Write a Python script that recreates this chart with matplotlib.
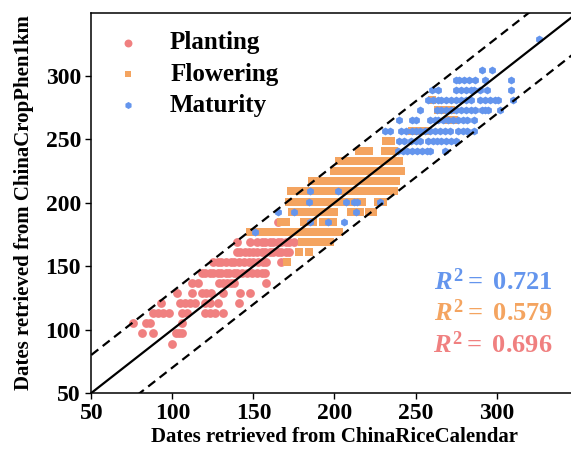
import numpy as np
import matplotlib
matplotlib.use('Agg')
from matplotlib import pyplot as plt

plt.rcParams['font.family'] = ['Liberation Serif', 'DejaVu Serif']
plt.rcParams['font.weight'] = 'bold'
plt.rcParams['mathtext.fontset'] = 'custom'
plt.rcParams['mathtext.it'] = 'Liberation Serif:italic:bold'
plt.rcParams['mathtext.rm'] = 'Liberation Serif:bold'
plt.rcParams['mathtext.bf'] = 'Liberation Serif:bold'

# rows: y value (ChinaCropPhen1km) -> x values (ChinaRiceCalendar)
planting_y = [89, 97, 105, 113, 121, 129, 137, 145, 153, 161, 169, 185]
planting_x = [
    [100],
    [81, 88, 102, 104, 106],
    [76, 84, 86, 106],
    [88, 91, 94, 98, 106, 109, 120, 123, 126, 131],
    [93, 105, 108, 111, 114, 120, 123, 128, 141],
    [103, 112, 118, 121, 124, 131, 142, 148],
    [112, 116, 129, 131, 134, 136, 138, 158],
    [118, 120, 123, 125, 128, 130, 133, 135, 138, 140, 143, 146, 149, 152, 155, 157],
    [125, 128, 130, 133, 136, 138, 141, 144, 147, 150, 153, 156, 158, 167],
    [140, 142, 145, 147, 150, 152, 155, 157, 160, 162, 165, 167, 170, 172],
    [140, 148, 152, 155, 157, 160, 162, 165, 167, 170, 172, 175],
    [165],
]

flowering_y = [153, 161, 169, 177, 185, 193, 201, 209, 217, 225, 233, 241,
               249, 257, 265, 273, 281]
flowering_x = [
    [171],
    [178, 184],
    [180, 182, 185, 187, 190, 192, 195, 197],
    [148, 151, 154, 157, 160, 163, 166, 169, 172, 175, 178, 181, 184, 188, 191,
     194, 197, 200, 203],
    [167, 170, 181, 184, 187, 193, 196, 199],
    [174, 177, 180, 183, 188, 191, 194, 197, 200, 210, 213, 216, 221, 224],
    [172, 175, 178, 181, 183, 186, 189, 192, 195, 198, 201, 205, 208, 211, 214,
     217, 227, 230],
    [173, 176, 179, 182, 186, 189, 192, 195, 198, 201, 204, 207, 210, 213, 216,
     219, 222, 225, 228, 231, 234, 237],
    [186, 189, 192, 195, 198, 201, 204, 207, 210, 213, 216, 219, 222, 225, 228,
     231, 235, 238],
    [200, 203, 206, 209, 212, 215, 218, 221, 224, 227, 230, 233, 236, 239, 241],
    [203, 206, 209, 211, 214, 217, 219, 221, 224, 226, 229, 232, 235, 238, 240],
    [215, 218, 221, 231, 234, 237],
    [232, 235],
    [248, 251, 254, 257],
    [270, 274],
    [264, 268, 272],
    [260],
]

maturity_y = [177, 185, 193, 201, 209, 241, 249, 257, 265, 273, 281, 289,
              297, 305, 329]
maturity_x = [
    [151],
    [185, 196, 206],
    [165, 175, 213],
    [184, 207, 212, 214, 228],
    [185, 202],
    [239, 242, 245, 248, 251, 254, 257, 259, 268],
    [240, 243, 247, 250, 253, 258, 261, 263, 266, 269, 272, 275],
    [231, 234, 241, 244, 248, 250, 253, 256, 259, 262, 265, 268, 271, 276, 279,
     282, 286],
    [240, 248, 250, 259, 262, 264, 267, 270, 273, 276, 279, 282, 286],
    [253, 263, 266, 269, 272, 275, 278, 281, 284, 287, 291, 293, 295, 302],
    [258, 261, 264, 266, 269, 272, 275, 278, 281, 284, 290, 293, 296, 299, 301,
     310],
    [260, 264, 275, 278, 281, 284, 286, 290, 294, 309],
    [275, 277, 280, 283, 287, 293, 309],
    [291, 297],
    [326],
]

r2_labels = ['0.721', '0.579', '0.696']
c_plant = '#F08080'
c_flower = '#F4A460'
c_mature = '#6495ED'


def flatten(ys, xs):
    px, py = [], []
    for y, row in zip(ys, xs):
        px += row
        py += [y] * len(row)
    return np.array(px), np.array(py)


fig = plt.figure(figsize=(5.71, 4.53), dpi=100)
ax = fig.add_axes([0.1599, 0.1325, 0.8517, 0.8395])

x, y = flatten(planting_y, planting_x)
ax.scatter(x, y, s=40, c=c_plant, marker='o', linewidths=0, label='Planting', zorder=2)
x, y = flatten(flowering_y, flowering_x)
ax.scatter(x, y, s=30, c=c_flower, marker='s', linewidths=0, label='Flowering', zorder=2)
x, y = flatten(maturity_y, maturity_x)
ax.scatter(x, y, s=32, c=c_mature, marker='h', linewidths=0, label='Maturity', zorder=3)

lims = np.array([50, 350])
ax.plot(lims, lims, color='black', lw=1.6, zorder=4)
ax.plot(lims, lims + 30, color='black', lw=1.6, dashes=(4, 2.5), zorder=4)
ax.plot(lims, lims - 30, color='black', lw=1.6, dashes=(4, 2.5), zorder=4)

ax.set_xlim(50, 350)
ax.set_ylim(50, 350)
ax.set_xticks([50, 100, 150, 200, 250, 300])
ax.set_yticks([50, 100, 150, 200, 250, 300])
ax.tick_params(labelsize=17, width=1.0, length=4)
for s in ax.spines.values():
    s.set_linewidth(1.1)

ax.set_xlabel('Dates retrieved from ChinaRiceCalendar', fontsize=15, fontweight='bold', labelpad=2)
ax.set_ylabel('Dates retrieved from ChinaCropPhen1km', fontsize=15, fontweight='bold', labelpad=8)

leg = ax.legend(loc='upper left', frameon=False, prop={'weight': 'bold', 'size': 18},
                handlelength=1.4, handletextpad=1.0, labelspacing=0.33,
                borderaxespad=0.35, markerscale=0.9)

for lab, col, yy in zip(r2_labels, [c_mature, c_flower, c_plant], [0.292, 0.21, 0.126]):
    ax.text(0.949, yy, r'$R^2=$ ' + lab, color=col, fontsize=19,
            ha='right', va='center', transform=ax.transAxes)

fig.savefig('out.png', dpi=100)
